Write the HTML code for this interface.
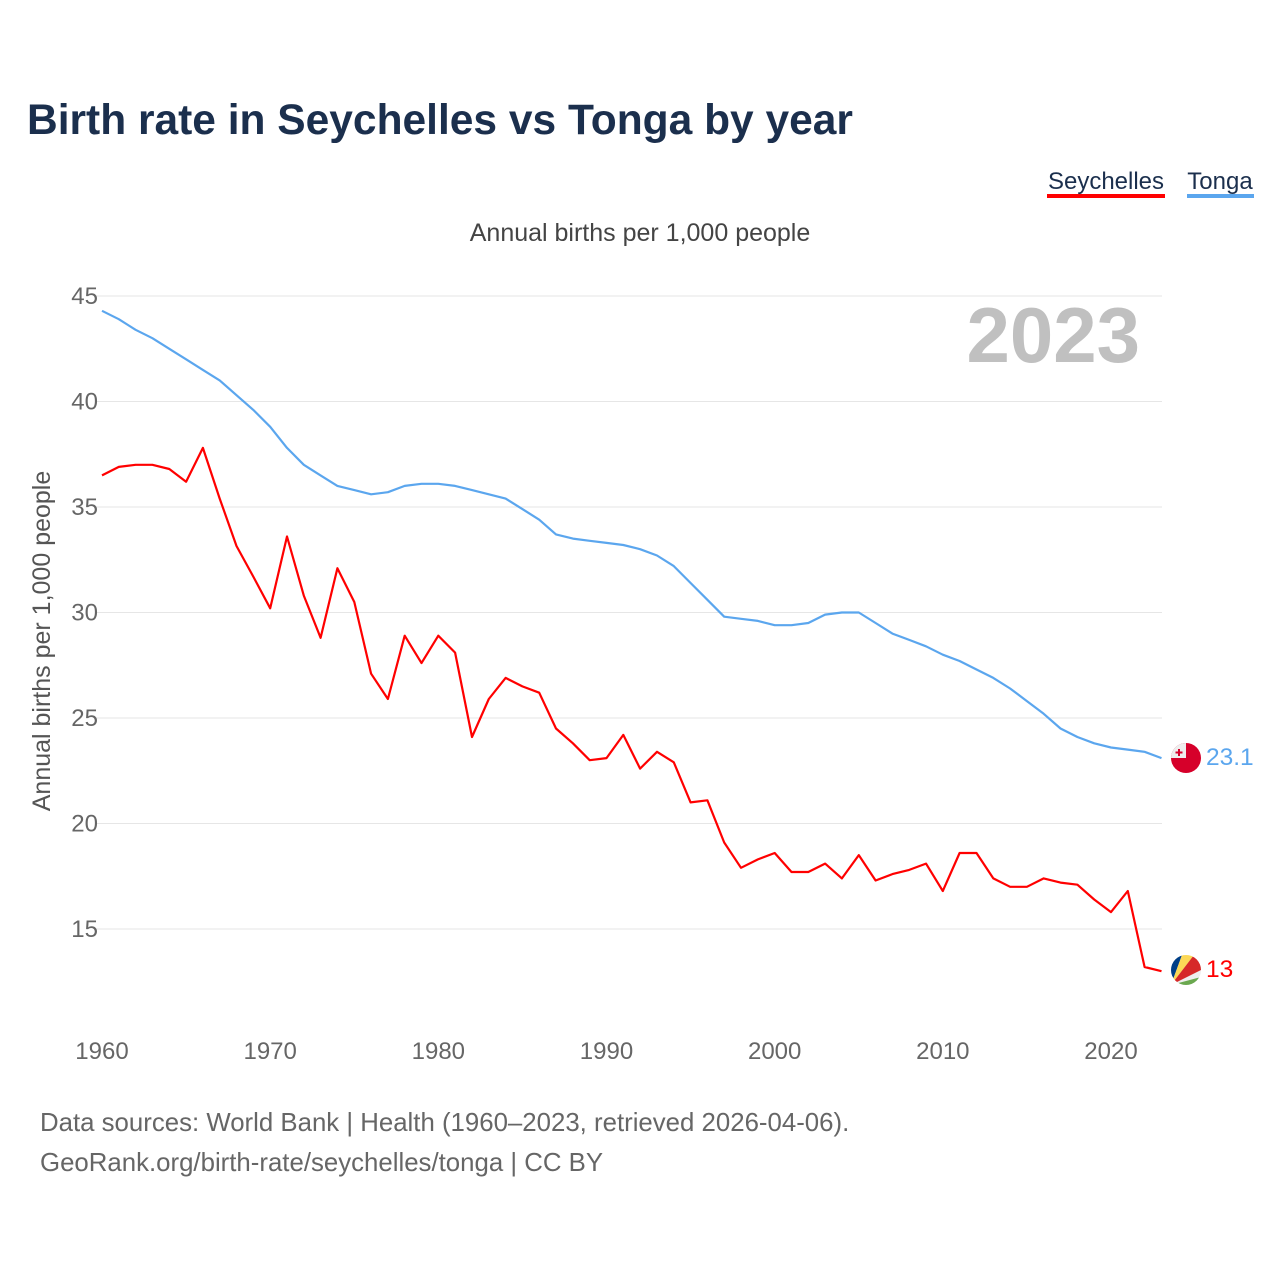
<!DOCTYPE html>
<html><head><meta charset="utf-8"><style>
body{margin:0;width:1280px;height:1280px;background:#fff;font-family:"Liberation Sans",sans-serif;overflow:hidden}
svg text{font-family:"Liberation Sans",sans-serif}
</style></head><body>
<svg id="chart" width="1280" height="1280">
<text x="27" y="134" font-size="42.5" font-weight="bold" fill="#1b2f4d">Birth rate in Seychelles vs Tonga by year</text>
<g><text x="1106" y="189" font-size="24" fill="#1b2f4d" text-anchor="middle">Seychelles</text><rect x="1047" y="194" width="118" height="4" fill="#f00"/></g>
<g><text x="1220" y="189" font-size="24" fill="#1b2f4d" text-anchor="middle">Tonga</text><rect x="1187" y="194" width="67" height="4" fill="#5ba6ee"/></g>
<text x="640" y="241" font-size="25" fill="#444" text-anchor="middle">Annual births per 1,000 people</text>
<text x="1140" y="362" font-size="78" font-weight="bold" fill="#c0c0c0" text-anchor="end">2023</text>
<text transform="translate(50,641) rotate(-90)" font-size="25" fill="#555" text-anchor="middle">Annual births per 1,000 people</text>
<g id="grid"></g><g id="ticks"></g><g id="lines"></g>
<g><circle cx="1186" cy="758" r="15" fill="#d6002a"/><path d="M1171,758 A15,15 0 0 1 1186,743 L1186,758 Z" fill="#eee"/><rect x="1178" y="749" width="2" height="7" fill="#d6002a"/><rect x="1175.5" y="751.5" width="7" height="2" fill="#d6002a"/></g>
<g><clipPath id="sc"><circle cx="1186" cy="970" r="15"/></clipPath><g clip-path="url(#sc)"><rect x="1171" y="955" width="30" height="30" fill="#eee"/><path d="M1171,985 L1171,955 L1182,955 Z" fill="#003f87"/><path d="M1171,985 L1182,955 L1194,955 Z" fill="#fcd856"/><path d="M1171,985 L1194,955 L1201,955 L1201,970 Z" fill="#d62828"/><path d="M1171,985 L1201,977 L1201,985 Z" fill="#6aa84f"/></g></g>
<text x="1206" y="765" font-size="24.5" fill="#5ba6ee">23.1</text>
<text x="1206" y="977" font-size="24.5" fill="#f00">13</text>
<text x="40" y="1131" font-size="25.8" fill="#666">Data sources: World Bank | Health (1960–2023, retrieved 2026-04-06).</text>
<text x="40" y="1171" font-size="25.8" fill="#666">GeoRank.org/birth-rate/seychelles/tonga | CC BY</text>
</svg>
<script>
const years=[];for(let y=1960;y<=2023;y++)years.push(y);
const seychelles=[36.5,36.9,37.0,37.0,36.8,36.2,37.8,35.4,33.15,31.7,30.2,33.6,30.8,28.8,32.1,30.5,27.1,25.9,28.9,27.6,28.9,28.1,24.1,25.9,26.9,26.5,26.2,24.5,23.8,23.0,23.1,24.2,22.6,23.4,22.9,21.0,21.1,19.1,17.9,18.3,18.6,17.7,17.7,18.1,17.4,18.5,17.3,17.6,17.8,18.1,16.8,18.6,18.6,17.4,17.0,17.0,17.4,17.2,17.1,16.4,15.8,16.8,13.2,13.0];
const tonga=[44.3,43.9,43.4,43.0,42.5,42.0,41.5,41.0,40.3,39.6,38.8,37.8,37.0,36.5,36.0,35.8,35.6,35.7,36.0,36.1,36.1,36.0,35.8,35.6,35.4,34.9,34.4,33.7,33.5,33.4,33.3,33.2,33.0,32.7,32.2,31.4,30.6,29.8,29.7,29.6,29.4,29.4,29.5,29.9,30.0,30.0,29.5,29.0,28.7,28.4,28.0,27.7,27.3,26.9,26.4,25.8,25.2,24.5,24.1,23.8,23.6,23.5,23.4,23.1];
const yTicks=[15,20,25,30,35,40,45];
const xTicks=[1960,1970,1980,1990,2000,2010,2020];
const X=v=>102+(v-1960)*(1111-102)/60;
const Y=v=>296+(45-v)*(929-296)/30;
const NS='http://www.w3.org/2000/svg';
function mk(t,a,p){const e=document.createElementNS(NS,t);for(const k in a)e.setAttribute(k,a[k]);p.appendChild(e);return e;}
const grid=document.getElementById('grid'),ticks=document.getElementById('ticks'),lines=document.getElementById('lines');
yTicks.forEach(v=>{
const l=mk('line',{x1:95,x2:1162,y1:Y(v),y2:Y(v),stroke:'#e6e6e6','stroke-width':1},grid);


const t=mk('text',{x:98,y:Y(v)+8,'font-size':24,fill:'#666','text-anchor':'end'},ticks);t.textContent=v;


});
xTicks.forEach(v=>{
const t=mk('text',{x:X(v),y:1059,'font-size':24,fill:'#666','text-anchor':'middle'},ticks);t.textContent=v;


});
function line(vals,c,name){
const p=mk('path',{d:vals.map((v,i)=>(i?'L':'M')+X(years[i]).toFixed(1)+','+Y(v).toFixed(1)).join(''),fill:'none',stroke:c,'stroke-width':2.2,'stroke-linejoin':'round'},lines);


}
line(tonga,'#5ba6ee','tonga-line');
line(seychelles,'#f00','seychelles-line');
</script>
</body></html>
